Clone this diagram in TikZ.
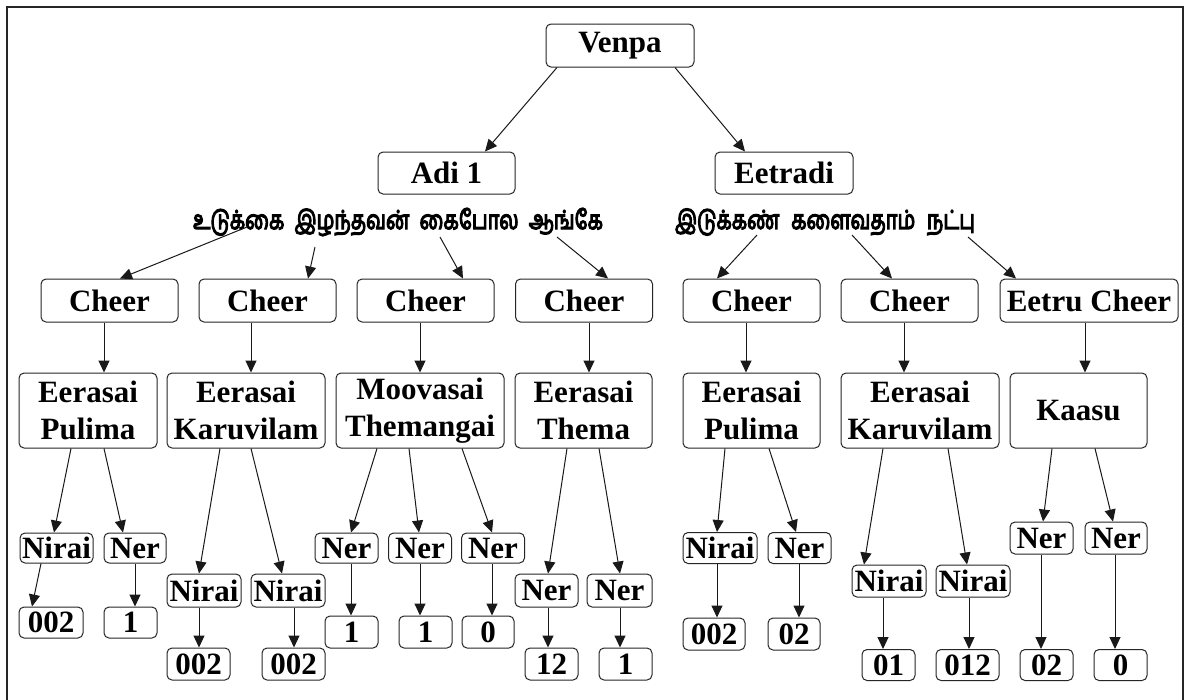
\documentclass[tikz,border=0pt]{standalone}
\usepackage{fontspec}
\setmainfont{Liberation Serif}
\newfontfamily\tamilfont[Script=Tamil, FakeBold=5]{Hind Madurai}
\usetikzlibrary{arrows.meta}

% arrow from the bottom of one node to the top of another, with horizontal offsets
\newcommand\link[4]{\draw[arr] ([xshift=#2pt]#1.south) -- ([xshift=#4pt]#3.north);}
% arrow leaving a line of verse at a given offset from its centre
\newcommand\vlink[5]{\draw[arr] ([xshift=#2pt,yshift=#3pt]#1.center) -- ([xshift=#5pt]#4.north);}

\begin{document}
\begin{tikzpicture}[x=1pt,y=-1pt,
  box/.style={draw=black!85, line width=1pt, rounded corners=5pt, inner sep=0pt,
    align=center, font=\bfseries\fontsize{31}{37}\selectfont},
  verse/.style={inner sep=0pt, font=\tamilfont\fontsize{20}{24}\selectfont},
  arr/.style={-{Triangle[length=12pt,width=11pt]}, line width=1pt, draw=black!90}]

\useasboundingbox (0,0) rectangle (1185,699);
\fill[white] (0,0) rectangle (1185,699);
\draw[line width=2.5pt, black!85] (7,702) -- (7,7) -- (1183,7) -- (1183,702);

% top levels
\node[box, minimum width=148pt, minimum height=43pt] (venpa) at (620,45.5) {Venpa};
\node[box, minimum width=137pt, minimum height=42pt] (adi) at (446.5,173) {Adi 1};
\node[box, minimum width=138pt, minimum height=42pt] (eet) at (784,173) {Eetradi};

% lines of verse
\node[verse] (ta) at (398,222) {\scalebox{1}[1.3]{\makebox[410pt][s]{உடுக்கை இழந்தவன் கைபோல ஆங்கே}}};
\node[verse] (tb) at (825,222) {\scalebox{1}[1.3]{\makebox[300pt][s]{இடுக்கண் களைவதாம் நட்பு}}};

% cheer row
\foreach \n/\x in {c1/109.5, c2/267.5, c3/425.5, c4/584, c5/751.5, c6/909.5}
  \node[box, minimum width=137pt, minimum height=43pt] (\n) at (\x,300.5) {Cheer};
\node[box, minimum width=178pt, minimum height=43pt] (c7) at (1089,300.5) {Eetru Cheer};

% metre row
\node[box, minimum width=138pt, minimum height=75pt] (p1) at (88,410.5) {Eerasai\\Pulima};
\node[box, minimum width=158pt, minimum height=75pt] (k1) at (246,410.5) {Eerasai\\Karuvilam};
\node[box, minimum width=168pt, minimum height=75pt] (m1) at (420,410.5) {Moovasai\\Themangai};
\node[box, minimum width=137pt, minimum height=75pt] (h1) at (583.5,410.5) {Eerasai\\Thema};
\node[box, minimum width=137pt, minimum height=75pt] (p2) at (751.5,410.5) {Eerasai\\Pulima};
\node[box, minimum width=158pt, minimum height=75pt] (k2) at (920,410.5) {Eerasai\\Karuvilam};
\node[box, minimum width=137pt, minimum height=75pt] (ka) at (1078.5,410.5) {Kaasu};

% syllable row
\node[box, minimum width=73pt, minimum height=30pt] (p1a) at (56.5,548) {Nirai};
\node[box, minimum width=62pt, minimum height=30pt] (p1b) at (135,548) {Ner};
\node[box, minimum width=74pt, minimum height=33pt] (k1a) at (204,590.5) {Nirai};
\node[box, minimum width=74pt, minimum height=33pt] (k1b) at (288,590.5) {Nirai};
\node[box, minimum width=63pt, minimum height=30pt] (m1a) at (346.5,548) {Ner};
\node[box, minimum width=63pt, minimum height=30pt] (m1b) at (420,548) {Ner};
\node[box, minimum width=63pt, minimum height=30pt] (m1c) at (493,548) {Ner};
\node[box, minimum width=63pt, minimum height=33pt] (h1a) at (546.5,590.5) {Ner};
\node[box, minimum width=65pt, minimum height=33pt] (h1b) at (619.5,590.5) {Ner};
\node[box, minimum width=74pt, minimum height=31pt] (p2a) at (720,548) {Nirai};
\node[box, minimum width=63pt, minimum height=31pt] (p2b) at (799.5,548) {Ner};
\node[box, minimum width=74pt, minimum height=32pt] (k2a) at (889,581) {Nirai};
\node[box, minimum width=74pt, minimum height=32pt] (k2b) at (973,581) {Nirai};
\node[box, minimum width=63pt, minimum height=32pt] (kaa) at (1041.5,538) {Ner};
\node[box, minimum width=62pt, minimum height=32pt] (kab) at (1116,538) {Ner};

% digit leaves
\node[box, minimum width=64pt, minimum height=31pt] (lp1a) at (51,622.5) {002};
\node[box, minimum width=53pt, minimum height=31pt] (lp1b) at (130.5,622.5) {1};
\node[box, minimum width=63pt, minimum height=32pt] (lk1a) at (198.5,664) {002};
\node[box, minimum width=63pt, minimum height=32pt] (lk1b) at (293.5,664) {002};
\node[box, minimum width=53pt, minimum height=32pt] (lm1a) at (351.5,632) {1};
\node[box, minimum width=53pt, minimum height=32pt] (lm1b) at (425.5,632) {1};
\node[box, minimum width=52pt, minimum height=32pt] (lm1c) at (488,632) {0};
\node[box, minimum width=53pt, minimum height=32pt] (lh1a) at (551.5,664) {12};
\node[box, minimum width=53pt, minimum height=32pt] (lh1b) at (625.5,664) {1};
\node[box, minimum width=62pt, minimum height=32pt] (lp2a) at (714,634) {002};
\node[box, minimum width=52pt, minimum height=32pt] (lp2b) at (794,634) {02};
\node[box, minimum width=53pt, minimum height=31pt] (lk2a) at (888.5,665) {01};
\node[box, minimum width=63pt, minimum height=31pt] (lk2b) at (967.5,665) {012};
\node[box, minimum width=53pt, minimum height=31pt] (lkaa) at (1046.5,665) {02};
\node[box, minimum width=53pt, minimum height=31pt] (lkab) at (1120.5,665) {0};

% connectors
\link{venpa}{-63}{adi}{38.5}
\link{venpa}{55}{eet}{-39}

\vlink{ta}{-151}{-5}{c1}{10.5}
\vlink{ta}{-83}{-25}{c2}{40.5}
\vlink{ta}{42}{-15}{c3}{37.5}
\vlink{ta}{159}{-15}{c4}{24}
\vlink{tb}{-68}{-13}{c5}{-34.5}
\vlink{tb}{27}{-13}{c6}{-17.5}
\vlink{tb}{143}{-15}{c7}{-73}

\link{c1}{-5.5}{p1}{16}
\link{c2}{-16.5}{k1}{5}
\link{c3}{-5.5}{m1}{0}
\link{c4}{5}{h1}{5.5}
\link{c5}{-5.5}{p2}{-5.5}
\link{c6}{-5.5}{k2}{-16}
\link{c7}{-4}{ka}{6.5}

\link{p1}{-17}{p1a}{-2.5}
\link{p1}{16}{p1b}{-12}
\link{k1}{-26}{k1a}{-5}
\link{k1}{5}{k1b}{-6}
\link{m1}{-43}{m1a}{4.5}
\link{m1}{-11}{m1b}{-1}
\link{m1}{42}{m1c}{-1}
\link{h1}{-16.5}{h1a}{1.5}
\link{h1}{15.5}{h1b}{0.5}
\link{p2}{-26.5}{p2a}{-3}
\link{p2}{17.5}{p2b}{-3.5}
\link{k2}{-37}{k2a}{-25}
\link{k2}{28}{k2b}{-6}
\link{ka}{-26.5}{kaa}{1.5}
\link{ka}{16.5}{kab}{-3}

\link{p1a}{-15.5}{lp1a}{-19}
\link{p1b}{0}{lp1b}{4.5}
\link{k1a}{-5}{lk1a}{0.5}
\link{k1b}{6}{lk1b}{0.5}
\link{m1a}{4.5}{lm1a}{-0.5}
\link{m1b}{0}{lm1b}{-5.5}
\link{m1c}{-1}{lm1c}{4}
\link{h1a}{1.5}{lh1a}{-3.5}
\link{h1b}{0.5}{lh1b}{-5.5}
\link{p2a}{-3}{lp2a}{3}
\link{p2b}{-0.5}{lp2b}{5}
\link{k2a}{-6}{lk2a}{-5.5}
\link{k2b}{-4}{lk2b}{1.5}
\link{kaa}{-0.5}{lkaa}{-5.5}
\link{kab}{-1}{lkab}{-5.5}

\end{tikzpicture}
\end{document}
